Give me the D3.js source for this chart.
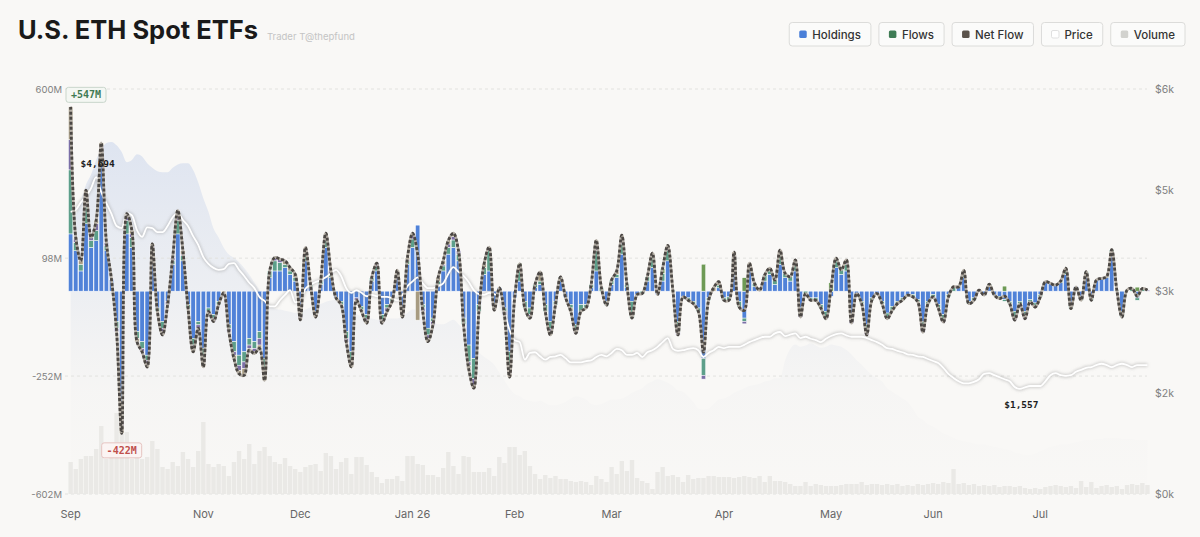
<!DOCTYPE html>
<html lang="en">
<head>
    <meta charset="UTF-8">
    <title>U.S. ETH Spot ETFs</title>
    <script src="https://cdn.jsdelivr.net/npm/d3@7"></script>
    <style>
        body { margin: 0; background: #f9f8f6; }
        svg { display: block; }
        text { font-family: 'Inter', 'Noto Sans', sans-serif; }
        .mono { font-family: 'DejaVu Sans Mono', monospace; }
    </style>
</head>
<body>

<script>
    const width  = 1200;
    const height = 537;

    // trading calendar
    const firstDay = "2025-09-26";
    const lastDay  = "2026-07-31";
    const holidays = ["2025-11-27", "2025-12-25", "2026-01-01", "2026-01-19", "2026-02-16",
                      "2026-04-03", "2026-05-25", "2026-06-19", "2026-07-03"];
    const monthTicks  = ["2025-09", "2025-11", "2025-12", "2026-01", "2026-02", "2026-03", "2026-04", "2026-05", "2026-06", "2026-07"];
    const monthLabels = ["Sep", "Nov", "Dec", "Jan 26", "Feb", "Mar", "Apr", "May", "Jun", "Jul"];

    // daily flows, $M
    const ethaFlows = [
        170,120,60,200,130,150,380,120,35,-90,
        -330,170,130,-120,-150,-190,100,-50,-90,-30,
        80,170,90,-40,-140,-90,-170,-50,-70,-30,
        0,-100,-150,-190,-180,-140,-150,-120,-200,40,
        60,60,70,50,30,-60,90,10,-60,20,
        130,40,-20,-30,-120,-180,-20,-45,-70,30,
        60,-70,-40,-20,40,-50,80,130,196,-40,
        -110,-80,20,60,110,130,90,-80,-160,-200,
        -40,50,60,-40,10,-50,-180,-20,30,-30,
        -50,10,20,-40,-90,-30,30,-20,-40,-100,
        -40,-40,10,60,0,-30,20,40,110,10,
        -30,-10,0,30,70,-10,30,90,0,-90,
        -17,-20,-30,-50,-200,-20,0,10,-20,-17,
        70,-30,-80,60,13,0,30,50,20,80,
        40,30,60,-50,0,-20,-20,-40,-60,-15,
        70,50,60,-70,-7,-30,-100,-20,-7,-30,
        -65,-45,-30,-20,-12,-10,-25,-90,-30,-10,
        -40,-70,-10,0,13,40,-30,-20,3,-12,
        14,-12,-15,-25,-30,-60,-30,-60,-25,-35,
        -10,28,23,18,25,50,-40,13,-20,45,
        -20,33,38,40,110,0,-60,0,0,-20,
        0,0
    ];
    const fethFlows = [
        190,25,20,50,20,30,30,15,0,-20,
        -50,40,30,-20,-20,-15,25,-10,-20,0,
        10,40,15,-10,-20,-10,-30,-10,-10,-10,
        0,-10,-30,-30,-30,-20,-20,-20,-30,20,
        30,25,10,10,10,-10,25,10,-10,10,
        20,10,0,-10,-20,-25,0,-10,-10,10,
        13,-15,-10,-10,12,-10,10,25,0,-10,
        -20,-10,10,15,20,22,20,-20,-50,-60,
        -20,20,60,-10,0,-10,-50,0,30,-20,
        -20,10,10,-20,-20,-10,12,0,-10,-15,
        -20,-10,10,60,10,-12,13,10,30,10,
        -50,0,-7,13,30,0,23,30,3,-30,
        0,-7,-7,-10,-50,-7,0,8,-7,-10,
        30,-17,-10,13,10,0,18,10,13,30,
        13,13,20,-20,-7,-7,-7,-10,-15,0,
        20,13,20,-15,0,-7,-20,-7,0,-7,
        -17,-12,-7,-7,0,-7,-7,-20,-7,-7,
        -10,-15,-7,13,0,12,-7,-7,0,0,
        7,0,-7,-5,-7,-20,-7,-15,-7,-12,
        -7,0,0,0,5,10,-12,0,-7,13,
        -7,0,0,3,13,3,-17,0,8,-7,
        8,0
    ];
    const miniFlows = [
        90,10,0,30,10,20,20,10,0,-10,
        -22,10,10,0,-10,-10,10,0,-10,-10,
        10,20,5,0,-10,-10,-15,0,-10,0,
        0,-10,-10,-15,-20,-10,-10,-20,-20,0,
        10,10,0,0,0,-10,10,0,0,0,
        12,10,0,0,-10,-10,-7,0,-10,0,
        10,-10,-10,0,0,-10,5,10,0,-10,
        -10,-10,0,5,10,10,10,0,-10,-18,
        0,0,0,0,0,-10,-15,0,0,0,
        -10,0,0,0,-10,0,0,0,0,-10,
        0,0,0,20,0,0,0,0,16,0,
        0,0,0,0,0,0,0,6,0,-10,
        0,0,0,0,-11,0,0,0,0,0,
        6,0,-7,0,0,0,0,0,0,0,
        0,0,5,-7,0,0,0,0,-7,0,
        0,0,5,-10,0,0,-10,0,0,0,
        0,0,0,0,0,0,0,-12,0,0,
        0,-7,0,0,0,0,0,0,0,0,
        0,0,0,0,0,-6,0,-7,0,0,
        0,0,0,0,0,0,0,0,0,0,
        0,0,0,0,0,0,0,0,0,0,
        0,3
    ];
    const etheFlows = [
        97,5,10,20,0,10,10,0,0,0,
        -20,10,10,-10,0,-10,5,0,-10,0,
        0,10,10,0,-10,0,-10,0,0,0,
        -5,0,-10,-10,-20,-5,-5,-10,-15,0,
        0,0,10,10,10,-5,5,0,-7,0,
        10,0,0,0,0,-10,0,-5,-5,0,
        0,0,0,0,10,-7,5,7,-86,0,
        -10,0,10,10,10,10,0,0,-10,-10,
        0,10,11,-6,0,0,-10,0,12,0,
        0,0,27,0,-10,0,0,0,-10,0,
        0,0,0,11,0,0,0,10,10,0,
        0,0,0,0,13,0,0,10,0,0,
        0,0,0,0,0,0,10,10,0,0,
        10,0,0,10,0,3,0,8,0,12,
        0,0,8,0,0,0,0,0,0,0,
        8,0,8,0,0,0,0,0,0,0,
        0,0,0,0,0,0,0,0,0,0,
        0,0,0,0,0,10,0,0,0,0,
        0,0,0,0,0,0,0,0,0,0,
        0,0,0,0,0,8,0,0,0,0,
        0,0,0,0,0,0,0,3,0,0,
        0,0
    ];
    // [day index, $M]
    const ethwFlows = [[88, 10], [116, 15], [124, 80], [132, 40], [149, 25], [183, 15], [209, 12]];

    // ETH price, $
    const ethPrice = [
        4180,4210,4320,4410,4530,4694,4470,4310,4150,3970,
        3940,4160,4130,3910,3810,3950,3940,3880,3880,3970,
        4100,4160,4060,3970,3820,3690,3510,3410,3350,3320,
        3330,3410,3420,3320,3230,3130,3050,2920,2860,2780,
        2780,2870,2950,3020,2840,2870,3040,3100,3140,3170,
        3210,3270,3320,3230,3050,2980,3020,2980,2930,2950,
        2930,2920,2920,2900,2870,2950,3080,3150,3210,3120,
        3050,3050,3080,3120,3260,3360,3290,3230,3140,3020,
        2960,2950,2980,2960,2920,2700,2430,2280,2250,1990,
        2090,2100,2040,1990,2030,2040,2060,2010,1950,1950,
        1950,1970,1980,2030,2060,2040,2090,2150,2130,2060,
        2060,2090,2030,2100,2130,2180,2250,2310,2150,2120,
        2130,2150,2160,2130,2030,2090,2130,2180,2160,2180,
        2180,2180,2210,2250,2280,2310,2330,2330,2380,2400,
        2340,2360,2380,2310,2330,2300,2280,2250,2300,2340,
        2370,2380,2350,2330,2330,2330,2310,2280,2250,2210,
        2160,2150,2120,2100,2070,2060,2040,2030,2000,1970,
        1940,1870,1780,1720,1670,1640,1640,1660,1700,1780,
        1790,1760,1730,1700,1670,1585,1557,1580,1600,1600,
        1600,1670,1760,1790,1760,1750,1760,1810,1840,1870,
        1880,1910,1930,1910,1880,1910,1930,1910,1880,1910,
        1910,1910
    ];

    // total holdings, $B
    const holdings = [
        23.5,24.8,26.1,27.5,28.4,29.7,30.6,31.2,31.3,31.0,
        30.4,29.5,29.7,30.2,30.0,29.4,29.0,28.7,28.6,28.6,
        29.0,29.3,29.4,29.4,28.8,27.7,26.3,25.1,23.6,22.8,
        21.9,21.3,21.0,20.6,20.1,19.5,18.8,18.1,17.4,16.8,
        16.5,16.4,16.3,16.2,16.1,16.2,16.4,16.6,16.8,16.9,
        17.1,17.2,17.3,17.2,16.7,16.2,16.0,15.8,15.6,15.6,
        15.5,15.5,15.6,15.6,15.6,15.8,16.1,16.4,16.4,16.2,
        15.6,15.3,15.1,15.1,15.3,15.5,15.1,14.6,13.9,13.2,
        12.6,12.2,11.9,11.5,10.8,10.1,9.4,8.9,8.7,8.4,
        8.3,8.2,8.3,8.1,7.9,7.9,8.0,8.2,8.5,8.7,
        8.6,8.4,8.0,7.9,8.0,8.2,8.4,8.4,8.5,8.7,
        9.0,9.2,9.4,9.8,10.0,10.2,10.1,9.9,9.6,9.2,
        9.1,8.7,8.2,7.6,7.5,7.6,8.0,8.4,8.5,8.7,
        9.0,9.2,9.4,9.6,9.7,9.8,10.0,10.1,10.3,10.3,
        11.9,12.9,13.3,13.1,13.2,13.4,13.2,13.0,13.1,13.3,
        13.2,13.1,12.8,12.4,11.9,11.5,11.0,10.6,10.3,10.0,
        9.4,9.1,8.8,8.5,8.2,7.6,6.9,6.6,6.2,6.0,
        5.7,5.4,5.2,5.0,4.8,4.7,4.6,4.5,4.4,4.4,
        4.3,4.2,4.1,4.0,3.9,3.7,3.6,3.5,3.5,3.6,
        3.8,4.0,4.2,4.3,4.4,4.4,4.5,4.6,4.7,4.8,
        4.8,4.9,4.9,5.0,5.0,5.0,4.9,4.9,4.9,4.8,
        4.8,4.8
    ];

    // traded volume, $M
    const volume = [
        1280,1000,1400,1520,1520,1800,2720,1400,1520,3240,
        2480,2480,1400,1600,1400,1480,2120,1800,1080,1000,
        1280,1120,1680,1400,1080,1720,2880,1200,1080,1200,
        1120,720,1280,1720,1400,2000,1200,1720,1880,1520,
        1280,1200,1440,1120,1000,880,1080,1160,1200,920,
        1640,1520,1000,1280,1440,800,1480,1480,1160,880,
        680,440,600,600,720,520,1520,1520,1200,1160,
        760,760,680,1040,1680,1120,800,1520,1480,880,
        880,880,1040,720,1480,1240,1880,1880,1560,1720,
        1120,800,600,760,640,720,600,600,520,480,
        520,480,360,720,600,480,1080,800,1320,920,
        1360,640,520,440,200,880,1080,720,760,680,
        480,760,600,640,640,720,720,680,680,680,
        640,680,720,680,640,720,480,720,520,520,
        480,400,320,320,480,320,400,360,320,320,
        320,360,400,400,400,480,360,400,400,360,
        400,360,400,320,360,320,400,360,400,440,
        400,480,440,1000,400,440,360,400,320,360,
        320,360,280,320,320,280,320,240,200,240,
        200,280,320,360,320,280,320,240,520,280,
        480,240,320,360,280,320,200,360,400,360,
        440,360
    ];

    const flowTicks  = [600, 98, -252, -602];
    const priceTicks = [6000, 4500, 3000, 1500, 0];

    const flowKeys   = ["etha", "feth", "mini", "ethe", "ethw"];
    const flowColors = ["#5082d8", "#5d9f8a", "#7b6fa6", "#a79b81", "#6e9a55"];

    const legendItems  = ["Holdings", "Flows", "Net Flow", "Price", "Volume"];
    const legendColors = ["#4a7fd8", "#3f7c55", "#5b534b", "#ffffff", "#d2d2ce"];

    // ---------------------------------------------------------------
    const parseDay = d3.utcParse("%Y-%m-%d");
    const fmtDay   = d3.utcFormat("%Y-%m-%d");
    const fmtMonth = d3.utcFormat("%Y-%m");

    const dates = d3.utcDay.range(parseDay(firstDay), d3.utcDay.offset(parseDay(lastDay), 1))
                    .filter(d => d.getUTCDay() % 6 !== 0 && !holidays.includes(fmtDay(d)));
    const n = Math.min(dates.length, ethaFlows.length);

    const rows = d3.range(n).map(i => ({
        etha: ethaFlows[i], feth: fethFlows[i], mini: miniFlows[i], ethe: etheFlows[i], ethw: 0
    }));
    ethwFlows.forEach(([i, v]) => { if (rows[i]) rows[i].ethw = v; });
    const net = rows.map(r => d3.sum(flowKeys, k => r[k]));

    const plotTop = 89, plotBottom = 494, plotLeft = 65, plotRight = 1147;

    const x = d3.scaleBand()
                .domain(d3.range(n))
                .range([68.45, 68.45 + 5.1 * n])
                .paddingInner(0.14)
                .paddingOuter(0);
    const cx = i => x(i) + x.bandwidth() / 2;

    const yFlow  = d3.scaleLinear().domain([-602, 600]).range([plotBottom, plotTop]);
    const yPrice = d3.scaleLinear().domain([0, 6000]).range([plotBottom, plotTop]);
    const yHold  = d3.scaleLinear().domain([0, 36]).range([plotBottom, plotTop]);
    const yVol   = d3.scaleLinear().domain([0, 4000]).range([plotBottom, plotBottom - 100]);

    const svg = d3.select("body")
                  .append("svg").attr("width", width).attr("height", height);

    svg.append("rect").attr("width", width).attr("height", height).attr("fill", "#f9f8f6");

    const defs = svg.append("defs");
    const grad = defs.append("linearGradient")
                     .attr("id", "holdFill")
                     .attr("gradientUnits", "userSpaceOnUse")
                     .attr("x1", 0).attr("x2", 0).attr("y1", plotTop).attr("y2", plotBottom);
    grad.append("stop").attr("offset", 0).attr("stop-color", "#cdd8ee").attr("stop-opacity", 0.75);
    grad.append("stop").attr("offset", 0.5).attr("stop-color", "#d8dfec").attr("stop-opacity", 0.38);
    grad.append("stop").attr("offset", 0.75).attr("stop-color", "#e0e2e8").attr("stop-opacity", 0.12);
    grad.append("stop").attr("offset", 1).attr("stop-color", "#e6e6e6").attr("stop-opacity", 0.03);

    defs.append("filter").attr("id", "soft")
        .attr("x", "-5%").attr("y", "-20%").attr("width", "110%").attr("height", "140%")
        .append("feGaussianBlur").attr("stdDeviation", 1.4);

    // title
    const title = svg.append("text")
                     .text("U.S. ETH Spot ETFs")
                     .attr("x", 18).attr("y", 39)
                     .attr("font-size", 26).attr("font-weight", 700)
                     .attr("fill", "#1a1a1a");
    fitText(title, 240);

    const sub = svg.append("text")
                   .text("Trader T@thepfund")
                   .attr("x", 267).attr("y", 40)
                   .attr("font-size", 11)
                   .attr("fill", "#c4c4c4");
    fitText(sub, 88);

    // legend, right aligned
    const legend = svg.append("g");
    let lx = 1185;
    for (let k = legendItems.length - 1; k >= 0; k--) {
        const g = legend.append("g");
        const t = g.append("text").text(legendItems[k])
                   .attr("font-size", 11.5).attr("font-weight", 500)
                   .attr("fill", "#333").attr("y", 38.5);
        const tw = t.node().getComputedTextLength();
        const w = tw + 33;
        const x0 = lx - w;
        g.insert("rect", "text")
         .attr("x", x0).attr("y", 22.5).attr("width", w).attr("height", 23.5)
         .attr("rx", 3).attr("fill", "#fbfbfa").attr("stroke", "#dcdcda");
        g.append("rect")
         .attr("x", x0 + 10).attr("y", 30.5).attr("width", 7.5).attr("height", 7.5).attr("rx", 1.5)
         .attr("fill", legendColors[k])
         .attr("stroke", legendColors[k] === "#ffffff" ? "#e0e0e0" : "none");
        t.attr("x", x0 + 23);
        lx = x0 - 8;
    }

    // holdings area
    const area = d3.area()
                   .x((d, i) => cx(i))
                   .y0(plotBottom)
                   .y1(d => yHold(d))
                   .curve(d3.curveMonotoneX);
    svg.append("path").datum(holdings.slice(0, n))
       .attr("d", area)
       .attr("fill", "url(#holdFill)");

    // grid
    svg.append("g").selectAll("line").data(flowTicks).join("line")
       .attr("x1", plotLeft).attr("x2", plotRight)
       .attr("y1", d => yFlow(d)).attr("y2", d => yFlow(d))
       .attr("stroke", "#e2e2df").attr("stroke-dasharray", "3,3");

    // volume
    svg.append("g").selectAll("rect").data(volume.slice(0, n)).join("rect")
       .attr("x", (d, i) => x(i))
       .attr("width", x.bandwidth())
       .attr("y", d => yVol(d))
       .attr("height", d => plotBottom - yVol(d))
       .attr("fill", "#eae9e6");

    // stacked flows
    const series = d3.stack().keys(flowKeys).offset(d3.stackOffsetDiverging)(rows);
    svg.append("g").selectAll("g").data(series).join("g")
       .attr("fill", (d, k) => flowColors[k])
       .selectAll("rect").data(d => d.map((s, i) => ({s, i})).filter(e => e.s[0] !== e.s[1]))
       .join("rect")
       .attr("x", e => x(e.i))
       .attr("width", x.bandwidth())
       .attr("y", e => yFlow(Math.max(e.s[0], e.s[1])))
       .attr("height", e => Math.abs(yFlow(e.s[0]) - yFlow(e.s[1])))
       .attr("stroke", "#ffffff").attr("stroke-width", 0.5);

    // price line
    const priceLine = d3.line()
                        .x((d, i) => cx(i))
                        .y(d => yPrice(d))
                        .curve(d3.curveMonotoneX);
    svg.append("path").datum(ethPrice.slice(0, n))
       .attr("d", priceLine)
       .attr("fill", "none").attr("stroke", "#8a8a8a").attr("stroke-opacity", 0.4)
       .attr("stroke-width", 3.5).attr("filter", "url(#soft)");
    svg.append("path").datum(ethPrice.slice(0, n))
       .attr("d", priceLine)
       .attr("fill", "none").attr("stroke", "#ffffff").attr("stroke-width", 1.8);

    // net flow line
    const netLine = d3.line()
                      .x((d, i) => cx(i))
                      .y(d => yFlow(d))
                      .curve(d3.curveCatmullRom.alpha(0.5));
    svg.append("path").datum(net)
       .attr("d", netLine)
       .attr("fill", "none").attr("stroke", "#b3ada4").attr("stroke-width", 2.8);
    svg.append("path").datum(net)
       .attr("d", netLine)
       .attr("fill", "none").attr("stroke", "#4b4744").attr("stroke-width", 2.8)
       .attr("stroke-dasharray", "3,2");

    // axes
    const axL = svg.append("g")
                   .attr("transform", "translate(64,0)")
                   .call(d3.axisLeft(yFlow).tickValues(flowTicks).tickSize(0).tickPadding(2)
                           .tickFormat(d => d + "M"));
    styleAxis(axL, true);

    const axR = svg.append("g")
                   .attr("transform", "translate(" + plotRight + ",0)")
                   .call(d3.axisRight(yPrice).tickValues(priceTicks).tickSize(0).tickPadding(8)
                           .tickFormat(d => "$" + (d / 1000).toFixed(0) + "k"));
    styleAxis(axR, false);

    const tickIdx = monthTicks.map(m => dates.findIndex(d => fmtMonth(d) === m));
    const axB = svg.append("g")
                   .attr("transform", "translate(0,506)")
                   .call(d3.axisBottom(x).tickValues(tickIdx).tickSize(0).tickPadding(4)
                           .tickFormat((d, k) => monthLabels[k]));
    styleAxis(axB, false);
    axB.selectAll("text").attr("fill", "#666").attr("font-size", 11);

    // annotations
    const iMax = d3.maxIndex(net), iMin = d3.minIndex(net);
    badge(Math.max(cx(iMax), 86), yFlow(net[iMax]) - 12, "+" + net[iMax] + "M", "#3f7a52", "#f4f7f3", "#c9d6cb");
    badge(cx(iMin), yFlow(net[iMin]) + 17, net[iMin] + "M", "#c0504d", "#fbf4f3", "#e6c4c1");

    const pMax = d3.maxIndex(ethPrice), pMin = d3.minIndex(ethPrice);
    priceNote(cx(pMax) + 1.5, yPrice(ethPrice[pMax]) - 10, ethPrice[pMax]);
    priceNote(cx(pMin) + 1.5, yPrice(ethPrice[pMin]) + 19, ethPrice[pMin]);

    function badge(bx, by, label, color, fill, stroke) {
        const g = svg.append("g");
        g.append("rect")
         .attr("x", bx - 20).attr("y", by - 7.5).attr("width", 40).attr("height", 15)
         .attr("rx", 2.5).attr("fill", fill).attr("stroke", stroke);
        g.append("text").attr("class", "mono")
         .text(label)
         .attr("x", bx).attr("y", by + 3.5)
         .attr("text-anchor", "middle")
         .attr("font-size", 10).attr("font-weight", 700)
         .attr("fill", color);
    }

    function priceNote(px, py, v) {
        svg.append("text").attr("class", "mono")
           .text("$" + d3.format(",")(v))
           .attr("x", px).attr("y", py)
           .attr("text-anchor", "middle")
           .attr("font-size", 9.5).attr("font-weight", 700)
           .attr("fill", "#1e1e1e");
    }

    function styleAxis(g, mono) {
        g.select(".domain").remove();
        g.selectAll("text")
         .attr("fill", "#808080")
         .attr("font-size", mono ? 9.5 : 10.5)
         .attr("font-family", mono ? "'DejaVu Sans Mono', monospace" : "'Inter', 'Noto Sans', sans-serif");
    }

    function fitText(sel, w) {
        const len = sel.node().getComputedTextLength();
        if (len > 0) sel.attr("font-size", +sel.attr("font-size") * w / len);
    }

</script>

</body>
</html>
